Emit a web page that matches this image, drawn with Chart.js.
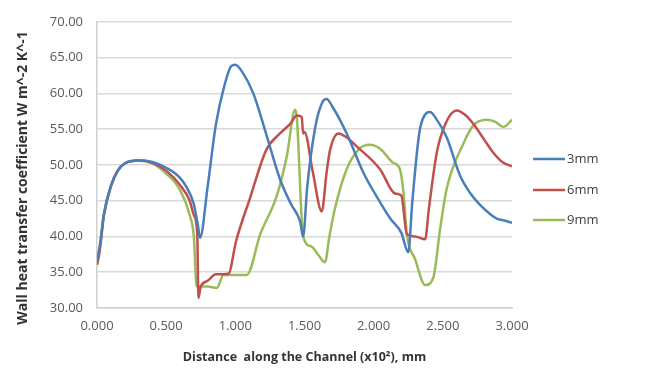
<!DOCTYPE html>
<html><head><meta charset="utf-8">
<script src="https://cdn.jsdelivr.net/npm/chart.js@4/dist/chart.umd.min.js"></script>
<style>html,body{margin:0;padding:0;background:#fff}canvas{display:block}</style>
</head><body>
<canvas id="c" width="652" height="369"></canvas>
<script>
const seriesLabels = ['3mm', '6mm', '9mm'];
const xTicks = [0, 0.5, 1.0, 1.5, 2.0, 2.5, 3.0];
const yTicks = [30, 35, 40, 45, 50, 55, 60, 65, 70];
const xTitle = 'Distance  along the Channel (x10²), mm';
const yTitle = 'Wall heat transfer coefficient W m^-2 K^-1';

const x3 = [0.000,0.02,0.05,0.10,0.15,0.20,0.30,0.40,0.50,0.60,0.65,0.70,0.73,0.745,0.80,0.86,0.92,0.97,1.00,1.05,1.13,1.22,1.323,1.40,1.468,1.49,1.52,1.58,1.63,1.66,1.70,1.805,1.926,2.046,2.12,2.20,2.25,2.28,2.33,2.37,2.408,2.45,2.527,2.625,2.70,2.769,2.85,2.89,2.95,3.00];
const y3 = [36.5,38.5,43.0,47.0,49.2,50.2,50.6,50.4,49.6,48.2,46.8,44.5,41.5,39.8,47.0,55.7,61.0,63.8,64.0,63.0,60.0,54.5,48.0,44.6,42.1,40.0,47.0,55.5,58.8,59.2,58.2,54.4,48.9,44.8,42.5,40.5,37.8,45.0,54.5,57.0,57.4,56.5,53.9,48.5,46.0,44.4,43.0,42.5,42.2,41.9];

const x6 = [0.000,0.02,0.05,0.10,0.15,0.20,0.30,0.40,0.50,0.60,0.67,0.70,0.725,0.733,0.75,0.80,0.86,0.95,1.006,1.105,1.224,1.323,1.40,1.444,1.48,1.49,1.50,1.56,1.625,1.66,1.685,1.745,1.80,1.877,2.046,2.155,2.20,2.24,2.30,2.372,2.40,2.456,2.52,2.601,2.66,2.72,2.80,2.865,2.93,3.00];
const y6 = [36.0,38.0,43.0,47.0,49.2,50.2,50.6,50.3,49.2,47.2,45.0,43.0,40.3,31.4,33.0,33.8,34.7,34.8,39.4,45.3,52.1,54.4,55.8,56.9,56.7,54.4,54.6,49.0,43.5,49.0,52.1,54.4,53.9,52.6,49.4,46.0,45.7,40.3,40.0,39.6,44.0,51.7,55.8,57.6,57.0,55.75,53.5,51.7,50.4,49.8];

const x9 = [0.000,0.02,0.05,0.10,0.15,0.20,0.30,0.40,0.50,0.60,0.67,0.70,0.72,0.80,0.866,0.914,1.00,1.082,1.18,1.30,1.372,1.432,1.445,1.49,1.55,1.60,1.648,1.68,1.72,1.805,1.90,1.974,2.05,2.14,2.19,2.215,2.24,2.30,2.372,2.432,2.48,2.527,2.649,2.72,2.818,2.88,2.938,3.00];
const y9 = [36.8,38.8,43.2,47.0,49.2,50.2,50.6,50.2,48.8,46.5,43.0,40.0,33.0,33.0,32.8,34.6,34.6,34.6,40.3,45.7,51.2,57.7,56.5,40.0,38.6,37.4,36.4,40.0,43.9,49.4,52.3,52.8,52.2,50.3,49.4,46.2,40.3,36.8,33.2,34.3,41.0,46.6,53.0,55.5,56.3,56.0,55.3,56.3];

const colors = ['#4a7ebb', '#c0504d', '#9bbb59'];
const xs = [x3, x6, x9], ys = [y3, y6, y9];

const datasets = seriesLabels.map((lab, k) => ({
  label: lab,
  data: xs[k].map((x, i) => ({x: x, y: ys[k][i]})),
  borderColor: colors[k],
  backgroundColor: colors[k],
  borderWidth: 2.5,
  pointRadius: 0,
  cubicInterpolationMode: 'monotone',
  fill: false
}));

const extrasPlugin = {
  id: 'extras',
  afterDraw(chart) {
    const ctx = chart.ctx;
    ctx.save();
    const rows = [159, 190, 220];
    seriesLabels.forEach((lab, k) => {
      ctx.strokeStyle = colors[k];
      ctx.lineWidth = 2.5;
      ctx.beginPath();
      ctx.moveTo(533, rows[k]);
      ctx.lineTo(565, rows[k]);
      ctx.stroke();
      ctx.fillStyle = '#404040';
      ctx.font = '13px "Open Sans", sans-serif';
      ctx.textBaseline = 'middle';
      ctx.textAlign = 'left';
      ctx.fillText(lab, 567, rows[k]);
    });
    ctx.translate(23, 178);
    ctx.rotate(-Math.PI / 2);
    ctx.fillStyle = '#333333';
    ctx.font = 'bold 14px "Open Sans", sans-serif';
    ctx.textAlign = 'center';
    ctx.textBaseline = 'middle';
    ctx.fillText(yTitle, 0, 0);
    ctx.restore();
  }
};

new Chart(document.getElementById('c'), {
  type: 'line',
  data: { datasets },
  options: {
    responsive: false,
    animation: false,
    layout: { padding: { left: 0, right: 140, top: 16, bottom: 0 } },
    plugins: { legend: { display: false }, tooltip: { enabled: false } },
    scales: {
      x: {
        type: 'linear', min: 0, max: 3,
        afterFit(s) { s.height = 61; },
        afterBuildTicks(s) { s.ticks = xTicks.map(v => ({value: v})); },
        ticks: { callback: v => Number(v).toFixed(3), color: '#595959', font: { family: 'Open Sans', size: 13 }, padding: 10, maxRotation: 0 },
        grid: { display: false, drawTicks: false },
        border: { display: true, color: '#d0d0d0', width: 1.5 },
        title: { display: true, text: xTitle, color: '#333333', font: { family: 'Open Sans', size: 12.5, weight: 'bold' }, padding: { top: 0, bottom: 4 } }
      },
      y: {
        min: 30, max: 70,
        afterFit(s) { s.width = 97; },
        afterBuildTicks(s) { s.ticks = yTicks.map(v => ({value: v})); },
        ticks: { callback: v => Number(v).toFixed(2), color: '#595959', font: { family: 'Open Sans', size: 13 }, padding: 14 },
        grid: { color: '#d9d9d9', lineWidth: 1.5, drawTicks: false },
        border: { display: true, color: '#d0d0d0', width: 1.5 },
        title: { display: false }
      }
    }
  },
  plugins: [extrasPlugin]
});
</script>
</body></html>
